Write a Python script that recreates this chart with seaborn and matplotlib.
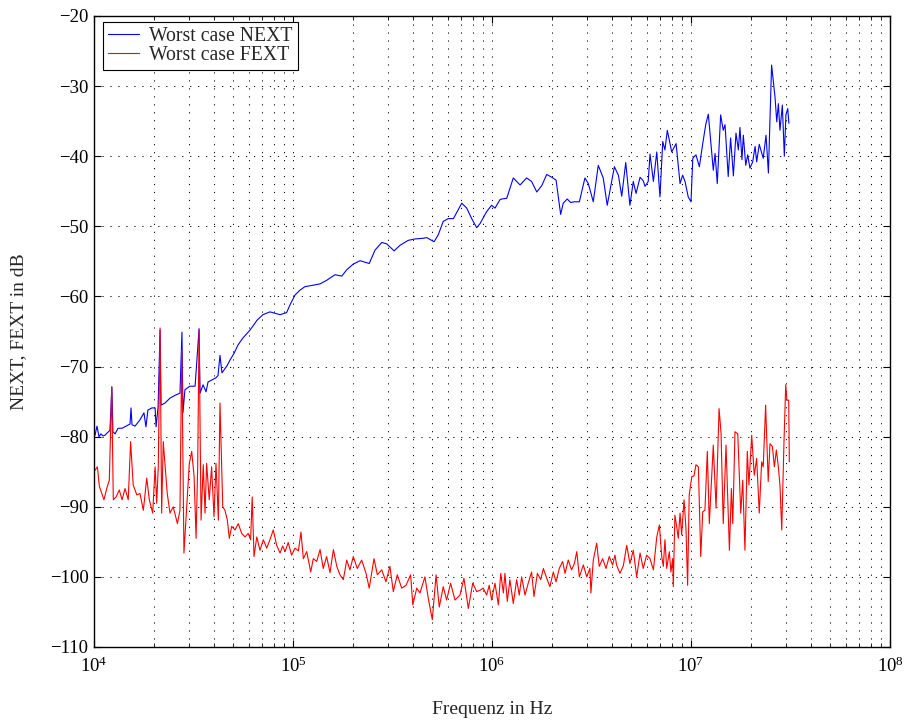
import numpy as np
import pandas as pd
import matplotlib
matplotlib.use("Agg")
import matplotlib.pyplot as plt
import seaborn as sns
from matplotlib.ticker import LogLocator, MultipleLocator, NullFormatter

# Worst case NEXT: log10(frequency / Hz) and level in dB
next_logf = [4.000, 4.005, 4.015, 4.025, 4.035, 4.045, 4.055, 4.065, 4.080, 4.090,
             4.095, 4.106, 4.121, 4.141, 4.161, 4.181, 4.186, 4.191, 4.206, 4.231,
             4.251, 4.261, 4.271, 4.291, 4.307, 4.312, 4.322, 4.332, 4.337, 4.357,
             4.382, 4.407, 4.432, 4.442, 4.447, 4.457, 4.482, 4.508, 4.528, 4.533,
             4.548, 4.563, 4.573, 4.593, 4.613, 4.623, 4.633, 4.643, 4.653, 4.668,
             4.683, 4.704, 4.724, 4.749, 4.784, 4.819, 4.849, 4.884, 4.935, 4.968,
             4.985, 5.010, 5.035, 5.060, 5.101, 5.136, 5.169, 5.211, 5.245, 5.270,
             5.302, 5.337, 5.383, 5.412, 5.446, 5.471, 5.508, 5.538, 5.579, 5.613,
             5.655, 5.672, 5.709, 5.730, 5.755, 5.780, 5.806, 5.848, 5.873, 5.898,
             5.923, 5.940, 5.973, 5.998, 6.015, 6.040, 6.049, 6.074, 6.107, 6.141,
             6.174, 6.199, 6.225, 6.250, 6.275, 6.300, 6.322, 6.345, 6.358, 6.378,
             6.395, 6.414, 6.439, 6.467, 6.484, 6.509, 6.534, 6.559, 6.579, 6.615,
             6.635, 6.652, 6.672, 6.693, 6.710, 6.724, 6.744, 6.760, 6.769, 6.785,
             6.794, 6.811, 6.828, 6.844, 6.858, 6.869, 6.881, 6.903, 6.925, 6.945,
             6.958, 6.970, 6.986, 7.000, 7.009, 7.025, 7.042, 7.059, 7.074, 7.087,
             7.112, 7.121, 7.132, 7.149, 7.162, 7.171, 7.187, 7.199, 7.213, 7.226,
             7.238, 7.246, 7.256, 7.263, 7.275, 7.285, 7.296, 7.310, 7.322, 7.330,
             7.343, 7.363, 7.377, 7.389, 7.405, 7.422, 7.431, 7.439, 7.447, 7.459,
             7.469, 7.477, 7.486, 7.492]
next_db = [-79.1, -79.8, -78.5, -80.0, -79.6, -79.9, -79.8, -79.5, -79.1, -72.9,
           -79.3, -79.6, -78.8, -78.8, -78.5, -78.2, -75.9, -78.3, -78.5, -77.6,
           -76.6, -78.6, -76.2, -75.9, -75.9, -78.6, -75.8, -64.8, -75.5, -75.2,
           -74.5, -74.1, -73.8, -65.1, -76.6, -73.3, -72.8, -72.8, -64.6, -73.8,
           -72.6, -73.6, -72.2, -71.9, -71.6, -71.3, -68.4, -70.9, -70.5, -69.9,
           -69.1, -68.1, -66.9, -65.9, -64.8, -63.4, -62.6, -62.2, -62.6, -62.3,
           -61.2, -59.8, -59.1, -58.6, -58.4, -58.2, -57.7, -56.9, -57.1, -56.2,
           -55.4, -54.9, -55.3, -53.4, -52.3, -52.5, -53.5, -52.7, -52.0, -51.8,
           -51.7, -51.6, -52.2, -51.2, -49.3, -48.9, -48.9, -46.7, -47.4, -48.9,
           -50.2, -49.6, -47.9, -47.0, -47.4, -46.2, -46.1, -46.0, -43.1, -44.1,
           -43.1, -43.6, -45.1, -44.2, -42.6, -43.0, -43.4, -48.3, -46.7, -46.1,
           -46.6, -46.5, -46.5, -43.1, -43.9, -46.5, -41.3, -43.1, -47.0, -41.5,
           -42.7, -45.7, -40.9, -47.0, -43.6, -45.3, -43.0, -43.5, -44.3, -43.6,
           -39.7, -43.6, -39.4, -45.8, -37.9, -39.1, -36.3, -39.4, -38.2, -43.9,
           -42.7, -43.6, -45.8, -46.5, -40.3, -39.8, -41.5, -38.2, -35.5, -34.0,
           -42.0, -39.6, -43.9, -34.1, -36.3, -35.5, -42.9, -37.4, -42.8, -36.7,
           -39.1, -35.9, -40.5, -37.0, -41.3, -39.8, -41.7, -40.8, -38.6, -40.8,
           -38.3, -40.3, -37.0, -42.4, -27.0, -31.5, -35.1, -32.5, -36.3, -32.7,
           -40.0, -34.1, -33.2, -35.3]

# Worst case FEXT: log10(frequency / Hz) and level in dB
fext_logf = [4.005, 4.017, 4.027, 4.039, 4.050, 4.064, 4.077, 4.089, 4.097, 4.111,
             4.127, 4.141, 4.156, 4.172, 4.184, 4.197, 4.215, 4.231, 4.248, 4.265,
             4.278, 4.295, 4.307, 4.315, 4.323, 4.332, 4.340, 4.348, 4.368, 4.382,
             4.398, 4.419, 4.432, 4.441, 4.452, 4.466, 4.479, 4.491, 4.503, 4.513,
             4.521, 4.528, 4.538, 4.549, 4.558, 4.566, 4.579, 4.591, 4.603, 4.613,
             4.625, 4.633, 4.647, 4.658, 4.670, 4.680, 4.692, 4.709, 4.725, 4.742,
             4.759, 4.775, 4.787, 4.795, 4.804, 4.818, 4.834, 4.851, 4.868, 4.884,
             4.901, 4.918, 4.935, 4.948, 4.960, 4.976, 4.993, 5.010, 5.027, 5.040,
             5.052, 5.069, 5.089, 5.102, 5.119, 5.136, 5.152, 5.169, 5.186, 5.203,
             5.220, 5.236, 5.253, 5.270, 5.286, 5.303, 5.323, 5.345, 5.367, 5.383,
             5.407, 5.424, 5.446, 5.467, 5.487, 5.504, 5.524, 5.546, 5.568, 5.591,
             5.602, 5.622, 5.638, 5.663, 5.680, 5.700, 5.719, 5.735, 5.755, 5.772,
             5.792, 5.814, 5.839, 5.859, 5.881, 5.903, 5.923, 5.940, 5.956, 5.973,
             5.986, 5.998, 6.015, 6.032, 6.044, 6.057, 6.065, 6.077, 6.090, 6.107,
             6.124, 6.137, 6.149, 6.166, 6.182, 6.199, 6.211, 6.228, 6.245, 6.258,
             6.275, 6.291, 6.308, 6.322, 6.338, 6.355, 6.367, 6.383, 6.400, 6.414,
             6.426, 6.439, 6.459, 6.476, 6.492, 6.497, 6.509, 6.526, 6.539, 6.556,
             6.573, 6.589, 6.606, 6.618, 6.626, 6.643, 6.660, 6.677, 6.693, 6.710,
             6.727, 6.744, 6.760, 6.777, 6.794, 6.811, 6.828, 6.841, 6.853, 6.861,
             6.869, 6.878, 6.891, 6.899, 6.908, 6.911, 6.919, 6.928, 6.936, 6.945,
             6.953, 6.965, 6.975, 6.983, 6.991, 7.004, 7.015, 7.025, 7.037, 7.049,
             7.059, 7.070, 7.082, 7.092, 7.112, 7.126, 7.141, 7.151, 7.162, 7.176,
             7.193, 7.203, 7.210, 7.221, 7.235, 7.250, 7.260, 7.271, 7.283, 7.291,
             7.305, 7.318, 7.330, 7.343, 7.355, 7.363, 7.375, 7.388, 7.397, 7.409,
             7.419, 7.429, 7.439, 7.447, 7.456, 7.467, 7.476, 7.482, 7.491, 7.494]
fext_db = [-84.8, -84.3, -87.1, -88.1, -89.0, -87.4, -86.2, -72.9, -89.0, -88.6,
           -87.6, -89.0, -87.4, -89.0, -80.7, -86.9, -88.3, -88.1, -90.5, -85.9,
           -89.0, -90.9, -84.3, -89.5, -84.3, -64.5, -90.9, -80.7, -88.1, -90.9,
           -90.0, -92.4, -90.5, -67.6, -96.6, -90.0, -83.8, -82.1, -85.7, -94.5,
           -84.3, -64.8, -91.9, -84.0, -90.9, -83.8, -89.0, -84.3, -91.4, -83.8,
           -91.9, -75.2, -90.0, -90.5, -91.9, -94.5, -92.8, -93.3, -92.4, -93.8,
           -94.3, -93.8, -94.7, -88.6, -97.1, -94.3, -96.2, -94.7, -95.9, -94.7,
           -93.3, -95.5, -96.6, -95.6, -96.4, -95.1, -96.9, -95.9, -96.3, -93.6,
           -97.4, -96.4, -99.3, -97.4, -97.8, -96.1, -98.8, -97.1, -99.4, -96.1,
           -98.5, -99.7, -100.4, -97.6, -99.0, -97.1, -98.8, -97.6, -99.5, -101.6,
           -97.4, -99.7, -99.0, -100.7, -98.5, -102.1, -99.7, -101.6, -101.2, -99.7,
           -104.0, -101.6, -102.3, -100.0, -103.1, -106.1, -99.7, -104.3, -101.4, -103.3,
           -100.9, -103.3, -102.6, -100.2, -104.5, -100.9, -102.1, -101.9, -101.6, -102.6,
           -101.2, -103.3, -100.9, -104.0, -99.5, -102.3, -99.5, -103.5, -100.4, -103.8,
           -100.4, -102.6, -100.0, -102.6, -100.9, -99.3, -102.8, -99.5, -100.4, -98.8,
           -100.2, -101.4, -99.3, -100.7, -98.8, -97.8, -99.5, -97.6, -99.0, -98.1,
           -96.4, -100.0, -98.3, -100.0, -98.8, -102.3, -97.6, -95.2, -98.5, -97.4,
           -98.8, -97.1, -98.3, -96.9, -98.3, -99.5, -98.4, -95.5, -98.1, -96.2,
           -100.0, -96.6, -98.8, -96.9, -97.4, -99.0, -94.3, -92.6, -97.1, -98.5,
           -94.7, -98.8, -96.4, -99.3, -97.4, -101.4, -91.2, -92.8, -94.5, -90.9,
           -94.0, -89.0, -93.3, -101.2, -88.3, -85.7, -85.6, -84.0, -84.3, -97.1,
           -90.7, -90.5, -82.1, -92.4, -81.2, -90.2, -76.0, -79.5, -92.4, -81.2,
           -96.2, -87.4, -92.4, -79.3, -79.6, -90.9, -86.2, -96.2, -82.1, -86.9,
           -79.8, -85.5, -83.1, -90.9, -83.6, -84.3, -75.5, -86.4, -81.0, -81.4,
           -84.3, -81.9, -84.3, -86.9, -93.3, -81.0, -72.6, -74.8, -74.8, -83.6]

series_names = ["Worst case NEXT", "Worst case FEXT"]
series_colors = ["#0000ff", "#ff0000"]

frame = pd.concat([
    pd.DataFrame({"freq": 10 ** np.array(next_logf), "level": next_db,
                  "curve": series_names[0]}),
    pd.DataFrame({"freq": 10 ** np.array(fext_logf), "level": fext_db,
                  "curve": series_names[1]}),
], ignore_index=True)

sns.set_style("ticks")
plt.rcParams["font.family"] = ["Liberation Serif", "DejaVu Serif"]
plt.rcParams["mathtext.fontset"] = "custom"
plt.rcParams["mathtext.rm"] = "Liberation Serif"
plt.rcParams["mathtext.it"] = "Liberation Serif:italic"
plt.rcParams["axes.unicode_minus"] = True

fig = plt.figure(figsize=(9.07, 7.22), dpi=100)
ax = fig.add_axes([94 / 907, 1 - 647 / 722, (890 - 94) / 907, (647 - 16) / 722])

sns.lineplot(data=frame, x="freq", y="level", hue="curve",
             palette=dict(zip(series_names, series_colors)),
             estimator=None, sort=False, linewidth=0.8, ax=ax)

ax.set_xscale("log")
ax.set_xlim(1e4, 1e8)
ax.set_ylim(-110, -20)
ax.yaxis.set_major_locator(MultipleLocator(10))
ax.xaxis.set_major_locator(LogLocator(base=10, numticks=10))
ax.xaxis.set_minor_locator(LogLocator(base=10, subs=np.arange(2, 10), numticks=40))
ax.xaxis.set_minor_formatter(NullFormatter())

grid_style = dict(color="black", linestyle=(0, (1.2, 7)), linewidth=0.7)
ax.grid(True, which="major", axis="both", **grid_style)
ax.grid(True, which="minor", axis="x", **grid_style)

for side in ax.spines.values():
    side.set_color("black")
    side.set_linewidth(1.0)

ax.tick_params(which="both", direction="in", top=True, right=True,
               colors="black", labelsize=13.5)
ax.tick_params(which="major", length=5, width=0.8)
ax.tick_params(which="minor", length=3, width=0.6)
ax.tick_params(axis="x", which="major", pad=7)
ax.tick_params(axis="y", which="major", pad=4)

ax.set_xlabel("Frequenz in Hz", fontsize=14, labelpad=18)
ax.set_ylabel("NEXT, FEXT in dB", fontsize=14, labelpad=16)

leg = ax.legend(loc="upper left", bbox_to_anchor=(9 / 796, 1 - 6 / 631),
                borderaxespad=0, fontsize=14.2, frameon=True, fancybox=False,
                edgecolor="black", framealpha=1, handlelength=1.6,
                handletextpad=0.5, labelspacing=0.0, borderpad=0.25,
                title=None)
leg.get_frame().set_linewidth(0.8)

fig.savefig("out.png", dpi=100, facecolor="white")
